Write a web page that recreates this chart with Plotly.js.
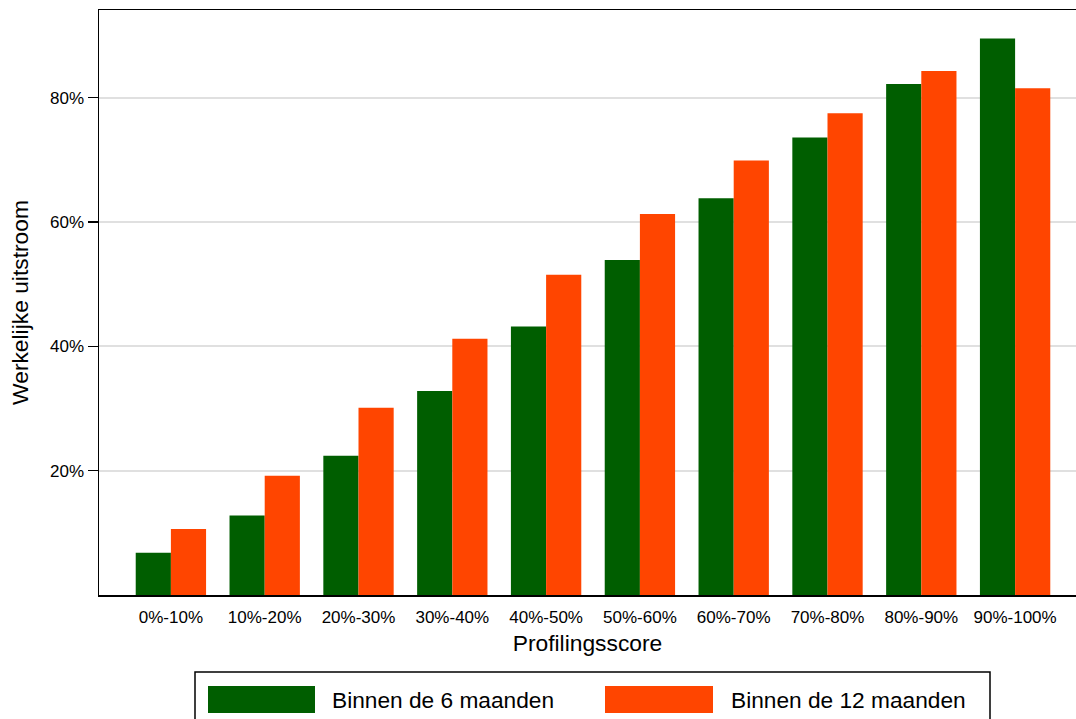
<!DOCTYPE html>
<html>
<head>
<meta charset="utf-8">
<script src="https://cdn.plot.ly/plotly-3.0.1.min.js"></script>
<style>html,body{margin:0;padding:0;background:#fff;}#chart{width:1076px;height:719px;}</style>
</head>
<body>
<div id="chart"></div>
<script>
// ---- data ----
const categories = ["0%-10%","10%-20%","20%-30%","30%-40%","40%-50%","50%-60%","60%-70%","70%-80%","80%-90%","90%-100%"];
const within6 = [6.8, 12.8, 22.4, 32.8, 43.2, 53.9, 63.8, 73.6, 82.2, 89.5];
const within12 = [10.6, 19.2, 30.1, 41.2, 51.5, 61.3, 69.9, 77.5, 84.3, 81.5];
const seriesNames = ["Binnen de 6 maanden", "Binnen de 12 maanden"];
const seriesColors = ["#005E00", "#FF4500"];
const yTickVals = [20, 40, 60, 80];
const yTickText = ["20%", "40%", "60%", "80%"];

const FONT = "Liberation Sans, Arial, sans-serif";

const traces = [within6, within12].map((vals, i) => ({
  type: "bar",
  x: categories,
  y: vals,
  name: seriesNames[i],
  marker: {color: seriesColors[i], line: {width: 0}},
  showlegend: false,
  hoverinfo: "x+y+name"
}));

// plot area in pixels: left 99, right 1076, top 10, bottom 595
const W = 1076, H = 719, L = 99, R = 0, T = 10, B = 124;
const pw = W - L - R, ph = H - T - B;
const px = v => (v - L) / pw;          // pixel x -> paper x
const py = v => (H - B - v) / ph;      // pixel y -> paper y

// custom legend (large swatches, boxed)
const shapes = [
  {type: "rect", xref: "paper", yref: "paper", x0: px(195), x1: px(990), y0: py(672), y1: py(740),
   line: {color: "#000", width: 1.5}, fillcolor: "rgba(0,0,0,0)"}
];
const annotations = [];
const swatchX = [[208, 315], [605, 713]];
const textX = [330, 729];
seriesNames.forEach((n, i) => {
  shapes.push({type: "rect", xref: "paper", yref: "paper",
    x0: px(swatchX[i][0]), x1: px(swatchX[i][1]), y0: py(686), y1: py(713),
    line: {width: 0}, fillcolor: seriesColors[i]});
  annotations.push({xref: "paper", yref: "paper", x: px(textX[i]), y: py(700),
    xanchor: "left", yanchor: "middle", showarrow: false, text: n,
    font: {family: FONT, size: 22.7, color: "#000"}});
});

const catW = 93.8; // px per category
const layout = {
  width: W, height: H,
  margin: {l: L, r: R, t: T, b: B, pad: 0},
  paper_bgcolor: "#fff", plot_bgcolor: "#fff",
  font: {family: FONT, color: "#000"},
  barmode: "group", bargap: 0.25, bargroupgap: 0,
  xaxis: {
    type: "category",
    range: [-0.5 - (124 - L) / catW, -0.5 - (124 - L) / catW + pw / catW],
    showline: true, linecolor: "#000", linewidth: 1.5, mirror: true,
    ticks: "", showgrid: false, zeroline: false,
    tickfont: {family: FONT, size: 17, color: "#000"},
    ticklabelstandoff: 6,
    title: {text: "Profilingsscore", font: {family: FONT, size: 22.8, color: "#000"}, standoff: 9}
  },
  yaxis: {
    range: [0, 94.1],
    tickvals: yTickVals, ticktext: yTickText,
    ticks: "outside", ticklen: 10, tickwidth: 1.5, tickcolor: "#000",
    showline: true, linecolor: "#000", linewidth: 1.5,
    showgrid: true, gridcolor: "#e0e0e0", gridwidth: 2,
    zeroline: false,
    tickfont: {family: FONT, size: 17, color: "#000"},
    title: {text: "Werkelijke uitstroom", font: {family: FONT, size: 22.8, color: "#000"}, standoff: 15}
  },
  shapes: shapes,
  annotations: annotations
};

Plotly.newPlot("chart", traces, layout, {displayModeBar: false, staticPlot: true});
</script>
</body>
</html>
